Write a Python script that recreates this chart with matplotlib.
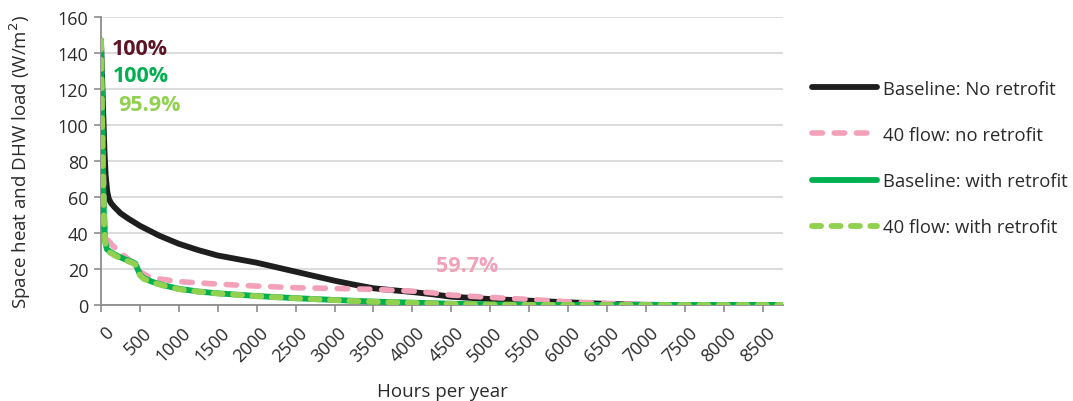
import matplotlib
matplotlib.use("Agg")
import matplotlib.pyplot as plt
from matplotlib.transforms import ScaledTranslation

plt.rcParams['font.family'] = ['Open Sans', 'DejaVu Sans']
plt.rcParams['lines.scale_dashes'] = False

# Load duration curves: hours of the year (sorted) vs. load in W/m2
hours_base_nr = [0, 15, 30, 45, 60, 80, 100, 130, 170, 250, 350, 500, 750, 1000,
                 1250, 1500, 1750, 2000, 2250, 2500, 2750, 3000, 3250, 3500,
                 3750, 4000, 4250, 4500, 5000, 5500, 6000, 6500, 7000, 7500, 8760]
load_base_nr = [147, 125, 105, 85, 72, 63, 59, 56.5, 54.5, 51, 48, 44, 38.5, 34,
                30.5, 27.5, 25.5, 23.5, 21, 18.5, 16, 13.5, 11.3, 9.3,
                8.2, 7.2, 6.0, 4.6, 3.3, 2.4, 1.5, 0.6, 0.1, 0, 0]

hours_40_nr = [0, 20, 40, 60, 80, 150, 250, 350, 450, 500, 600, 750, 1000, 1500,
               2000, 2500, 3000, 3500, 4000, 4250, 4500, 5000, 5500, 6000, 6500,
               7000, 7500, 8760]
load_40_nr = [147, 95, 55, 40, 36.5, 33, 29, 25.5, 21, 18.5, 16, 14.5, 13, 11.6,
              10.5, 9.6, 9.2, 8.7, 7.7, 6.8, 5.5, 4.2, 3.1, 1.8, 0.9,
              0.2, 0, 0]

hours_base_r = [0, 10, 20, 30, 40, 55, 75, 120, 200, 300, 400, 440, 470, 500, 550,
                650, 800, 1000, 1250, 1500, 2000, 2500, 3000, 3500, 4000, 4500,
                5000, 5500, 6000, 8760]
load_base_r = [147, 120, 90, 65, 45, 35, 31, 29.5, 27.5, 25.5, 24, 23, 20, 17, 15,
               13, 11, 9, 7.5, 6.5, 5, 3.8, 2.8, 1.9, 1.3, 0.7,
               0.3, 0.1, 0, 0]

hours_40_r = [0, 10, 20, 30, 40, 55, 75, 120, 200, 300, 400, 440, 470, 500, 550,
              650, 800, 1000, 1250, 1500, 2000, 2500, 3000, 3500, 4000, 4500,
              5000, 5500, 6000, 8760]
load_40_r = [147, 118, 88, 63, 44, 34.5, 30.5, 29, 27, 25, 23.5, 22.5, 19.5, 16.5, 14.5,
             12.7, 10.8, 8.8, 7.4, 6.4, 4.9, 3.7, 2.7, 1.8, 1.2, 0.6,
             0.25, 0.05, 0, 0]

x_ticks = list(range(0, 9000, 500))
y_ticks = list(range(0, 180, 20))

labels = ["Baseline: No retrofit", "40 flow: no retrofit",
          "Baseline: with retrofit", "40 flow: with retrofit"]

c_black = "#1e1e1e"
c_pink = "#f2a1b9"
c_green = "#00b050"
c_lgreen = "#92d050"
c_maroon = "#5c1426"
c_text = "#2b2b2b"
c_axis = "#8c8c8c"

fig = plt.figure(figsize=(10.73, 4.02), dpi=100)
ax = fig.add_axes([101/1073, 1 - 306/402, (783-101)/1073, (306-18)/402])

lw = 4.2
l1, = ax.plot(hours_base_nr, load_base_nr, color=c_black, lw=lw,
              solid_capstyle='round', solid_joinstyle='round', label=labels[0], zorder=3)
l2, = ax.plot(hours_40_nr, load_40_nr, color=c_pink, lw=4.0, dashes=(7.5, 8.5),
              dash_capstyle='round', label=labels[1], zorder=4)
l3, = ax.plot(hours_base_r, load_base_r, color=c_green, lw=lw,
              solid_capstyle='round', solid_joinstyle='round', label=labels[2], zorder=5)
l4, = ax.plot(hours_40_r, load_40_r, color=c_lgreen, lw=lw, dashes=(6.5, 7.5),
              dash_capstyle='round', label=labels[3], zorder=6)

ax.set_xlim(0, 8760)
ax.set_ylim(0, 160)
ax.set_xticks(x_ticks)
ax.set_yticks(y_ticks)
ax.set_xticklabels([str(v) for v in x_ticks], rotation=45, ha='right', va='top',
                   rotation_mode='anchor', fontsize=13, color=c_text)
ax.set_yticklabels([str(v) for v in y_ticks], fontsize=13, color=c_text)
ax.tick_params(axis='x', direction='out', length=5, width=1.2, color=c_axis, pad=8)
ax.tick_params(axis='y', direction='out', length=5, width=1.2, color=c_axis, pad=4)

shift = ScaledTranslation(3/100, 0, fig.dpi_scale_trans)
for lab in ax.get_xticklabels():
    lab.set_transform(lab.get_transform() + shift)

ax.grid(axis='y', color='#d9d9d9', lw=1.3)
ax.set_axisbelow(True)
for s in ['top', 'right']:
    ax.spines[s].set_visible(False)
for s in ['left', 'bottom']:
    ax.spines[s].set_color(c_axis)
    ax.spines[s].set_linewidth(1.3)
    ax.spines[s].set_zorder(2.5)

ax.set_xlabel("Hours per year", fontsize=13.5, color=c_text, labelpad=12)
ax.set_ylabel("Space heat and DHW load (W/m$^2$)", fontsize=13.5, color=c_text, labelpad=18)

# Peak-coverage annotations
ax.text(141, 139.4, "100%", color=c_maroon, fontsize=15.5, fontweight='bold', va='baseline')
ax.text(154, 124.6, "100%", color=c_green, fontsize=15.5, fontweight='bold', va='baseline')
ax.text(218, 108.5, "95.9%", color=c_lgreen, fontsize=15.5, fontweight='bold', va='baseline')
ax.text(4303, 18.8, "59.7%", color=c_pink, fontsize=15.5, fontweight='bold', va='baseline')

leg = fig.legend(handles=[l1, l2, l3, l4], loc='center left',
                 bbox_to_anchor=(812/1073, 1 - 159/402), frameon=False,
                 fontsize=13.3, handlelength=3.5, labelspacing=1.52,
                 handletextpad=0.35, borderaxespad=0, borderpad=0)
for t in leg.get_texts():
    t.set_color(c_text)

fig.savefig("out.png", dpi=100)
